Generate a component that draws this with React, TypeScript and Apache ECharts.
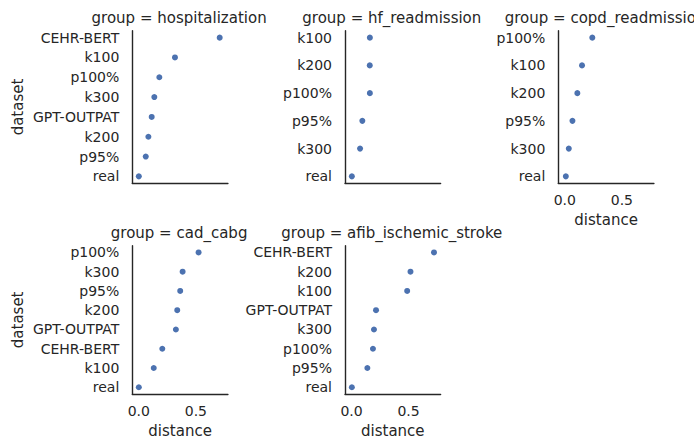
import React, { useEffect, useRef } from "react";
import * as echarts from "echarts";

const groupTitles = [
  "group = hospitalization",
  "group = hf_readmission",
  "group = copd_readmission",
  "group = cad_cabg",
  "group = afib_ischemic_stroke",
];

const hospCats = ["CEHR-BERT", "k100", "p100%", "k300", "GPT-OUTPAT", "k200", "p95%", "real"];
const hospVals = [0.709, 0.317, 0.18, 0.136, 0.113, 0.084, 0.061, 0.0];

const hfCats = ["k100", "k200", "p100%", "p95%", "k300", "real"];
const hfVals = [0.161, 0.16, 0.161, 0.095, 0.075, 0.003];

const copdCats = ["p100%", "k100", "k200", "p95%", "k300", "real"];
const copdVals = [0.241, 0.151, 0.11, 0.067, 0.035, 0.009];

const cadCats = ["p100%", "k300", "p95%", "k200", "GPT-OUTPAT", "CEHR-BERT", "k100", "real"];
const cadVals = [0.524, 0.384, 0.363, 0.337, 0.325, 0.206, 0.131, 0.0];

const afibCats = ["CEHR-BERT", "k200", "k100", "GPT-OUTPAT", "k300", "p100%", "p95%", "real"];
const afibVals = [0.723, 0.517, 0.488, 0.215, 0.197, 0.188, 0.139, 0.003];

const xTicks = [0, 0.5];
const xLabel = "distance";
const yLabel = "dataset";

const TEXT = "#262626";
const FONT = "DejaVu Sans";

export default function App() {
  const ref = useRef<HTMLDivElement>(null);
  useEffect(() => {
    document.body.style.margin = "0";
    if (!ref.current) return;
    const chart = echarts.init(ref.current, null, { renderer: "svg" });

    const facets = [
      { cats: hospCats, vals: hospVals, left: 132.3, top: 30.7, xl: false, yl: true },
      { cats: hfCats, vals: hfVals, left: 345, top: 30.7, xl: false, yl: false },
      { cats: copdCats, vals: copdVals, left: 558.3, top: 30.7, xl: true, yl: false },
      { cats: cadCats, vals: cadVals, left: 132.3, top: 245.7, xl: true, yl: true },
      { cats: afibCats, vals: afibVals, left: 345, top: 245.7, xl: true, yl: false },
    ];
    const W = 95.6;
    const H = 152.6;

    const grid = facets.map((f) => ({ left: f.left, top: f.top, width: W, height: H, containLabel: false }));
    const xAxis = facets.map((f, i) => ({
      type: "value",
      gridIndex: i,
      position: "bottom",
      min: -0.057,
      max: 0.781,
      name: f.xl ? xLabel : "",
      nameLocation: "middle",
      nameGap: 29,
      nameTextStyle: { fontSize: 15, color: TEXT, fontFamily: FONT },
      axisLine: { show: true, onZero: false, lineStyle: { color: TEXT, width: 1.4 } },
      axisTick: { show: false },
      splitLine: { show: false },
      axisLabel: {
        show: f.xl,
        customValues: xTicks,
        formatter: (v: number) => v.toFixed(1),
        fontSize: 14,
        color: TEXT,
        fontFamily: FONT,
        margin: 10,
      },
    }));
    const yAxis = facets.map((f, i) => {
      const n = f.cats.length - 1;
      return {
        type: "value",
        gridIndex: i,
        position: "left",
        inverse: true,
        min: -0.05 * n,
        max: 1.05 * n,
        name: f.yl ? yLabel : "",
        nameLocation: "middle",
        nameGap: 107,
        nameTextStyle: { fontSize: 15, color: TEXT, fontFamily: FONT },
        axisLine: { show: true, onZero: false, lineStyle: { color: TEXT, width: 1.4 } },
        axisTick: { show: false },
        splitLine: { show: false },
        axisLabel: {
          customValues: f.cats.map((_, j) => j),
          formatter: (v: number) => f.cats[Math.round(v)] ?? "",
          fontSize: 14,
          color: TEXT,
          fontFamily: FONT,
          margin: 13,
        },
      };
    });
    const series = facets.map((f, i) => ({
      type: "scatter",
      xAxisIndex: i,
      yAxisIndex: i,
      symbolSize: 6,
      itemStyle: { color: "#4C72B0", opacity: 1 },
      data: f.vals.map((v, j) => [v, j]),
    }));
    const graphic = facets.map((f, i) => ({
      type: "text",
      x: f.left + W / 2 - 1,
      y: f.top - 12.5,
      style: {
        text: groupTitles[i],
        fill: TEXT,
        font: `15px "${FONT}"`,
        fontSize: 15,
        fontFamily: FONT,
        textAlign: "center",
        align: "center",
        textVerticalAlign: "middle",
        verticalAlign: "middle",
      },
    }));

    chart.setOption({
      animation: false,
      backgroundColor: "#ffffff",
      textStyle: { fontFamily: FONT },
      grid,
      xAxis,
      yAxis,
      series,
      graphic,
    });
    return () => chart.dispose();
  }, []);
  return <div ref={ref} style={{ width: 694, height: 439 }} />;
}
